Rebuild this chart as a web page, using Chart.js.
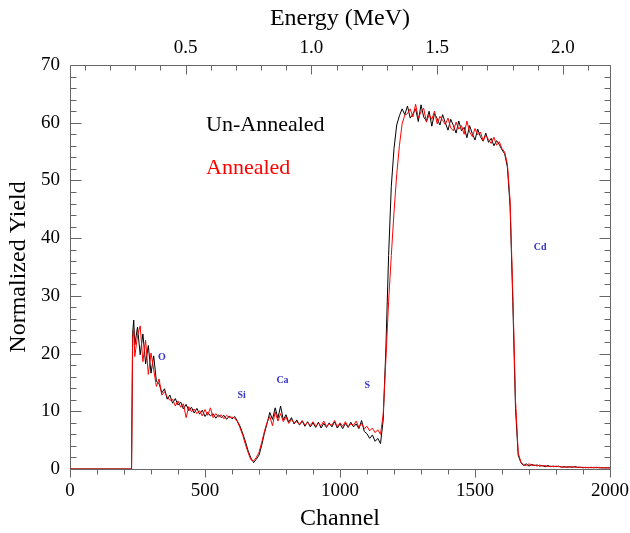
<!DOCTYPE html>
<html>
<head>
<meta charset="utf-8">
<script src="https://cdn.jsdelivr.net/npm/chart.js@4.4.1/dist/chart.umd.min.js"></script>
<style>
  body { margin: 0; background: #fff; }
  #rbs { display: block; }
</style>
</head>
<body>
<canvas id="rbs" width="630" height="533"></canvas>
<script>
// channel numbers (x) shared by both spectra
const channels = [
  0, 228, 232, 236, 240, 250, 260, 270, 280, 290, 300, 310, 320, 330, 340, 350, 360, 370, 380, 390,
  400, 410, 420, 430, 440, 450, 460, 470, 480, 490, 500, 510, 520, 530, 540, 550, 560, 570, 580, 590,
  600, 610, 620, 630, 640, 650, 660, 670, 680, 690, 700, 710, 720, 730, 740, 750, 760, 770, 780, 790,
  800, 810, 820, 830, 840, 850, 860, 870, 880, 890, 900, 910, 920, 930, 940, 950, 960, 970, 980, 990,
  1000, 1010, 1020, 1030, 1040, 1050, 1060, 1070, 1080, 1090, 1100, 1110, 1120, 1130, 1140, 1150, 1160, 1170, 1180, 1190,
  1200, 1210, 1220, 1230, 1240, 1250, 1260, 1270, 1280, 1290, 1300, 1310, 1320, 1330, 1340, 1350, 1360, 1370, 1380, 1390,
  1400, 1410, 1420, 1430, 1440, 1450, 1460, 1470, 1480, 1490, 1500, 1510, 1520, 1530, 1540, 1550, 1560, 1570, 1580, 1590,
  1600, 1610, 1620, 1630, 1640, 1650, 1660, 1670, 1680, 1690, 1700, 1710, 1720, 1730, 1740, 1750, 1760, 1770, 1780, 1790,
  1800, 1810, 1820, 1830, 1840, 1850, 1860, 1870, 1880, 1890, 1900, 1910, 1920, 1930, 1940, 1950, 1960, 1970, 1980, 1990,
  2000
];

const unAnnealed = [
  0, 0, 23.5, 25.8, 21.5, 24.6, 19.8, 23.4, 18.2, 21.4, 16.6, 19.6, 15.2, 14.8, 13.2, 13.9, 12.1, 12.8, 11.4, 12.2,
  11.1, 11.6, 10.4, 11.2, 10.1, 10.7, 9.7, 10.5, 9.5, 10.2, 9.1, 9.8, 9.2, 9.6, 8.8, 9.4, 8.9, 9.3, 8.6, 9.2,
  8.7, 9.1, 8.3, 7.4, 6.1, 4.7, 3.1, 1.9, 1.1, 1.7, 2.4, 4.1, 6.2, 7.9, 9.8, 8.6, 10.6, 8.8, 10.9, 8.5,
  9.4, 8.1, 8.9, 7.8, 8.5, 7.6, 8.3, 7.4, 8.2, 7.3, 8.0, 7.2, 8.1, 7.1, 7.9, 7.2, 8.0, 7.3, 8.2, 7.1,
  7.8, 7.0, 7.9, 7.2, 8.1, 7.3, 7.8, 7.0, 8.4, 6.5, 6.1, 5.3, 5.9, 4.8, 5.3, 4.4, 8.5, 21, 37, 49,
  55.5, 59.6, 61.2, 62.4, 61.4, 62.9, 60.8, 61.5, 62.4, 60.2, 63.1, 61.0, 60.3, 62.0, 59.4, 61.6, 60.7, 59.6, 61.4, 60.0,
  58.7, 60.6, 59.5, 58.2, 60.3, 58.6, 59.2, 57.4, 59.5, 58.1, 57.0, 58.9, 57.6, 56.8, 58.2, 56.6, 57.3, 56.0, 56.9, 56.2,
  55.3, 54.6, 52.3, 45.5, 29, 10.5, 2.4, 1.1, 0.6, 0.9, 0.5, 0.8, 0.6, 0.7, 0.5, 0.6, 0.4, 0.6, 0.4, 0.5,
  0.4, 0.5, 0.3, 0.4, 0.3, 0.4, 0.3, 0.4, 0.3, 0.3, 0.2, 0.3, 0.2, 0.3, 0.2, 0.3, 0.2, 0.2, 0.2, 0.2,
  0.2
];

const annealed = [
  0, 0, 22.5, 24.2, 19.5, 23.1, 24.8, 18.6, 22.3, 16.4, 20.1, 17.2, 14.3, 15.6, 12.8, 13.4, 12.5, 11.9, 12.1, 10.9,
  11.8, 10.7, 11.3, 8.9, 10.8, 9.9, 10.4, 9.6, 10.1, 9.2, 10.3, 9.3, 10.6, 8.9, 9.6, 9.0, 9.4, 8.7, 9.3, 8.9,
  9.0, 8.8, 8.2, 7.1, 5.8, 4.2, 2.8, 1.6, 1.4, 2.0, 2.9, 4.6, 6.5, 8.1, 9.1, 7.5, 9.9, 8.3, 9.6, 8.2,
  9.0, 7.9, 8.6, 8.0, 8.2, 7.7, 8.4, 7.6, 8.1, 7.5, 8.2, 7.4, 7.9, 7.5, 8.3, 7.4, 7.8, 7.6, 8.4, 7.3,
  8.0, 7.4, 8.2, 7.3, 7.8, 7.6, 8.3, 7.2, 7.9, 7.0, 7.4, 6.6, 7.1, 6.3, 6.8, 6.0, 9.5, 19, 29, 37,
  44.5, 51, 56, 59.8, 61.3, 61.6, 62.4, 61.0, 63.2, 60.8, 61.9, 62.5, 60.1, 61.4, 60.6, 62.0, 59.8, 61.1, 60.4, 59.7,
  60.8, 59.1, 58.6, 60.1, 58.9, 59.5, 58.0, 60.3, 58.4, 57.6, 59.0, 57.9, 58.4, 56.9, 57.8, 57.1, 56.4, 57.5, 56.1, 56.7,
  55.5, 54.9, 52.8, 46.5, 30.5, 12, 2.8, 1.2, 0.7, 0.6, 0.9, 0.6, 0.7, 0.5, 0.7, 0.5, 0.6, 0.4, 0.5, 0.4,
  0.5, 0.4, 0.4, 0.3, 0.4, 0.3, 0.4, 0.3, 0.3, 0.3, 0.3, 0.2, 0.3, 0.2, 0.3, 0.2, 0.3, 0.2, 0.2, 0.2,
  0.2
];

// top axis: energy calibration of the channel range, and its labelled ticks
const energyRange = [0.0408, 2.187];
const energyTicks = [0.5, 1.0, 1.5, 2.0];

// peak labels [text, channel, yield]
const elementLabels = [
  ['O', 340, 19.4],
  ['Si', 636, 12.8],
  ['Ca', 787, 15.3],
  ['S', 1101, 14.4],
  ['Cd', 1741, 38.4]
];

const serif = '"Liberation Serif", "DejaVu Serif", serif';
const axisColor = '#666';

const toPoints = (ys) => channels.map((c, i) => ({ x: c, y: ys[i] }));

// frame plus tick marks on all four sides
const frameTicks = {
  id: 'frameTicks',
  beforeDatasetsDraw(chart) {
    const { ctx, chartArea: a, scales } = chart;
    const x = scales.x, y = scales.y, e = scales.x2;
    ctx.save();
    ctx.strokeStyle = axisColor;
    ctx.lineWidth = 1;
    ctx.beginPath();
    const L = Math.round(a.left) + 0.5, R = Math.round(a.right) + 0.5;
    const T = Math.round(a.top) + 0.5, B = Math.round(a.bottom) + 0.5;
    ctx.rect(L, T, R - L, B - T);
    // bottom: every 100 channels, pointing out
    for (let c = 0; c <= 2000; c += 100) {
      const px = Math.round(x.getPixelForValue(c)) + 0.5;
      ctx.moveTo(px, B);
      ctx.lineTo(px, B + (c % 500 === 0 ? 8 : 5));
    }
    // left & right: every 2 units, pointing in
    for (let v = 0; v <= 70; v += 2) {
      const py = Math.round(y.getPixelForValue(v)) + 0.5;
      const len = v % 10 === 0 ? 11 : 6;
      ctx.moveTo(L, py); ctx.lineTo(L + len, py);
      ctx.moveTo(R, py); ctx.lineTo(R - len, py);
    }
    // top: every 0.1 MeV, pointing in
    for (let k = 1; k <= 21; k++) {
      const px = Math.round(e.getPixelForValue(k / 10)) + 0.5;
      ctx.moveTo(px, T);
      ctx.lineTo(px, T + (k % 5 === 0 ? 9 : 5));
    }
    ctx.stroke();
    ctx.restore();
  },
  afterDraw(chart) {
    const { ctx, scales } = chart;
    const x = scales.x, y = scales.y;
    ctx.save();
    ctx.textBaseline = 'middle';
    ctx.textAlign = 'left';
    ctx.font = '22px ' + serif;
    ctx.fillStyle = '#000';
    ctx.fillText('Un-Annealed', x.getPixelForValue(504), y.getPixelForValue(59.6));
    ctx.fillStyle = '#ff0000';
    ctx.fillText('Annealed', x.getPixelForValue(504), y.getPixelForValue(52.2));
    ctx.textAlign = 'center';
    ctx.font = 'bold 10px ' + serif;
    ctx.fillStyle = '#3535c8';
    elementLabels.forEach(([t, c, v]) => {
      ctx.fillText(t, x.getPixelForValue(c), y.getPixelForValue(v));
    });
    ctx.restore();
  }
};

new Chart(document.getElementById('rbs'), {
  type: 'line',
  data: {
    datasets: [
      {
        label: 'Un-Annealed',
        data: toPoints(unAnnealed),
        borderColor: '#000',
        borderWidth: 1,
        pointRadius: 0,
        order: 1
      },
      {
        label: 'Annealed',
        data: toPoints(annealed),
        borderColor: '#ff0000',
        borderWidth: 1,
        pointRadius: 0,
        order: 0
      }
    ]
  },
  options: {
    responsive: false,
    animation: false,
    devicePixelRatio: 1,
    layout: { padding: { left: 0, right: 20, top: 0, bottom: 0 } },
    plugins: { legend: { display: false }, tooltip: { enabled: false } },
    scales: {
      x: {
        type: 'linear',
        position: 'bottom',
        min: 0,
        max: 2000,
        grid: { display: false, drawTicks: false },
        border: { display: false },
        ticks: {
          stepSize: 500,
          padding: 11,
          color: '#000',
          font: { family: serif, size: 19 },
          callback: (v) => String(v)
        },
        title: {
          display: true,
          text: 'Channel',
          color: '#000',
          font: { family: serif, size: 24 },
          padding: { top: 0, bottom: 0 }
        },
        afterFit: (s) => { s.height = 64; s.paddingLeft = 0; s.paddingRight = 0; }
      },
      x2: {
        type: 'linear',
        position: 'top',
        min: energyRange[0],
        max: energyRange[1],
        grid: { display: false, drawTicks: false },
        border: { display: false },
        afterBuildTicks: (s) => { s.ticks = energyTicks.map((v) => ({ value: v })); },
        ticks: {
          padding: 6,
          color: '#000',
          font: { family: serif, size: 19 },
          callback: (v) => Number(v).toFixed(1)
        },
        title: {
          display: true,
          text: 'Energy (MeV)',
          color: '#000',
          font: { family: serif, size: 24 },
          padding: { top: 4, bottom: 0 }
        },
        afterFit: (s) => { s.height = 65; s.paddingLeft = 0; s.paddingRight = 0; }
      },
      y: {
        type: 'linear',
        min: 0,
        max: 70,
        grid: { display: false, drawTicks: false },
        border: { display: false },
        ticks: {
          stepSize: 10,
          padding: 10,
          color: '#000',
          font: { family: serif, size: 19 }
        },
        title: {
          display: true,
          text: 'Normalized Yield',
          color: '#000',
          font: { family: serif, size: 24 },
          padding: { top: 4, bottom: 0 }
        },
        afterFit: (s) => { s.width = 70; s.paddingTop = 0; s.paddingBottom = 0; }
      }
    }
  },
  plugins: [frameTicks]
});
</script>
</body>
</html>
